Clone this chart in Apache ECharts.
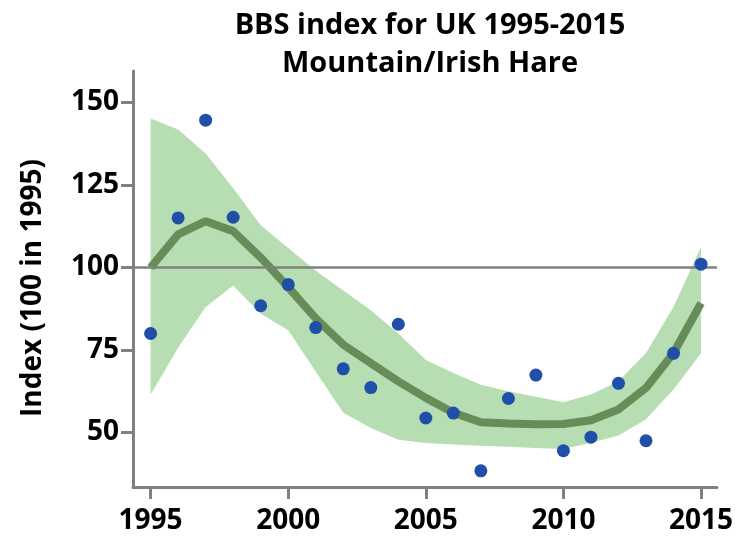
<!DOCTYPE html>
<html>
<head>
<meta charset="utf-8">
<script src="https://cdn.jsdelivr.net/npm/echarts@6/dist/echarts.min.js"></script>
<style>
  html, body { margin: 0; padding: 0; background: #fff; }
  #chart { width: 738px; height: 538px; }
</style>
</head>
<body>
<div id="chart"></div>
<script>
// BBS index, Mountain/Irish Hare, UK 1995-2015
const years = [1995, 1996, 1997, 1998, 1999, 2000, 2001, 2002, 2003, 2004, 2005,
  2006, 2007, 2008, 2009, 2010, 2011, 2012, 2013, 2014, 2015]
const observed = [80, 115, 144.6, 115.2, 88.4, 94.8, 81.8, 69.3, 63.6, 82.8, 54.4,
  55.9, 38.4, 60.3, 67.4, 44.5, 48.6, 64.9, 47.5, 74, 101]
const trend = [100, 110, 114, 111, 103, 94, 84.6, 76.6, 71, 65.5, 60.5,
  56, 53.1, 52.7, 52.5, 52.6, 53.7, 57, 63.5, 74.1, 89.2]
const upper = [145.1, 141.8, 134.5, 124, 112.8, 105.9, 99, 93, 87, 80, 72,
  68, 64.5, 62.5, 60.8, 59.2, 61.5, 65.5, 74.1, 88, 106.3]
const lower = [61.5, 75.7, 88, 94.5, 86, 81, 68.5, 56, 51.4, 47.8, 46.8,
  46.4, 46, 45.7, 45.3, 45, 46.9, 49.1, 54, 63, 74]
const yTicks = [50, 75, 100, 125, 150]
const xTicks = [1995, 2000, 2005, 2010, 2015]

const font = 'Open Sans'
const axisGrey = '#808080'

const chart = echarts.init(document.getElementById('chart'))
chart.setOption({
  backgroundColor: '#fff',
  animation: false,
  title: {
    text: 'BBS index for UK 1995-2015\nMountain/Irish Hare',
    left: 425,
    top: 2,
    textAlign: 'center',
    textStyle: {
      fontFamily: font,
      fontSize: 29,
      fontWeight: 'bold',
      color: '#000',
      lineHeight: 38
    }
  },
  grid: { left: 133, right: 21, top: 71, bottom: 51 },
  xAxis: {
    type: 'value',
    min: 1994.36,
    max: 2015.58,
    splitLine: { show: false },
    axisLine: { lineStyle: { color: axisGrey, width: 3 } },
    axisTick: {
      customValues: xTicks,
      length: 12,
      lineStyle: { color: axisGrey, width: 3 }
    },
    axisLabel: {
      customValues: xTicks,
      formatter: v => String(v),
      margin: 20,
      color: '#000',
      fontFamily: font,
      fontSize: 28,
      fontWeight: 'bold'
    }
  },
  yAxis: {
    type: 'value',
    min: 33.5,
    max: 159.5,
    name: 'Index (100 in 1995)',
    nameLocation: 'middle',
    nameGap: 86,
    nameTextStyle: {
      fontFamily: font,
      fontSize: 28,
      fontWeight: 'bold',
      color: '#000',
      padding: [0, 18, 0, 0]
    },
    splitLine: { show: false },
    axisLine: { show: true, lineStyle: { color: axisGrey, width: 3 } },
    axisTick: {
      show: true,
      customValues: yTicks,
      length: 12,
      lineStyle: { color: axisGrey, width: 3 }
    },
    axisLabel: {
      customValues: yTicks,
      margin: 14,
      color: '#000',
      fontFamily: font,
      fontSize: 28,
      fontWeight: 'bold'
    }
  },
  series: [
    {
      // confidence band drawn as one polygon: upper edge then lower edge back
      name: 'band',
      type: 'custom',
      silent: true,
      data: years.map((y, i) => [y, lower[i], upper[i]]),
      encode: { x: 0, y: [1, 2] },
      renderItem(params, api) {
        if (params.dataIndex !== 0) return
        const pts = []
        for (let i = 0; i < years.length; i++) pts.push(api.coord([years[i], upper[i]]))
        for (let i = years.length - 1; i >= 0; i--) pts.push(api.coord([years[i], lower[i]]))
        return {
          type: 'polygon',
          shape: { points: pts },
          style: { fill: '#b6deb2' }
        }
      },
      z: 1
    },
    {
      name: 'trend',
      type: 'line',
      symbol: 'none',
      lineStyle: { color: '#688c58', width: 8 },
      data: years.map((y, i) => [y, trend[i]]),
      markLine: {
        silent: true,
        symbol: 'none',
        label: { show: false },
        lineStyle: { color: axisGrey, width: 2.5, type: 'solid' },
        data: [{ yAxis: 100 }]
      },
      z: 3
    },
    {
      name: 'index',
      type: 'scatter',
      symbolSize: 13,
      itemStyle: { color: '#1f4fa8', opacity: 1 },
      data: years.map((y, i) => [y, observed[i]]),
      z: 5
    }
  ]
})
</script>
</body>
</html>
